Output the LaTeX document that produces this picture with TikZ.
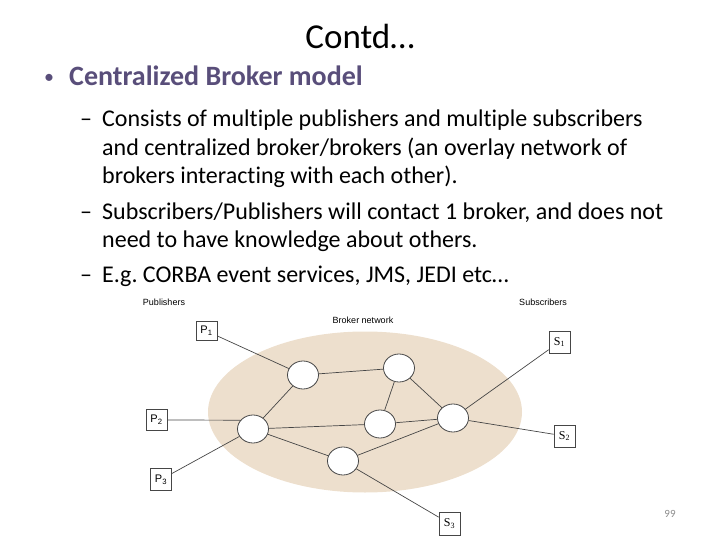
\documentclass[tikz,border=0pt]{standalone}
\usepackage{fontspec}
\setmainfont{Carlito}[Ligatures={NoCommon}]
\newfontfamily\diagfont{Liberation Sans}
\newfontfamily\serfont{Liberation Serif}
\usetikzlibrary{shapes.geometric}
\definecolor{headc}{RGB}{89,78,122}
\definecolor{cloudc}{RGB}{237,223,205}
\definecolor{linec}{RGB}{70,70,70}
\definecolor{pagec}{RGB}{140,140,140}
\frenchspacing
\begin{document}
\begin{tikzpicture}[x=1pt,y=-1pt,
  txt/.style={anchor=base west,inner sep=0pt,font=\fontsize{24}{29}\selectfont},
  dashmark/.style={anchor=base,inner sep=0pt,font=\fontsize{24}{29}\selectfont},
  brk/.style={ellipse,draw=linec,fill=white,line width=0.8pt,minimum width=31,minimum height=28,inner sep=0pt},
  pbox/.style={draw=linec,fill=white,line width=0.6pt,minimum width=21,minimum height=21,inner sep=0pt,font=\diagfont\fontsize{11}{12}\selectfont},
  sbox/.style={pbox,font=\serfont\fontsize{12}{13}\selectfont},
  lab/.style={inner sep=0pt,font=\diagfont\fontsize{9}{11}\selectfont},
  edge/.style={draw=linec,line width=0.7pt}]
\useasboundingbox (0,0) rectangle (720,540);
% title
\node[anchor=base,inner sep=0pt,font=\fontsize{35}{42}\selectfont] (title) at (360,49) {Contd…};
\node[anchor=base,inner sep=0pt,font=\fontsize{20}{24}\selectfont,text=headc] (bul) at (49,84) {•};
\node[anchor=base west,inner sep=0pt,font=\fontsize{28}{34}\selectfont\bfseries,text=headc] (head) at (69,86) {Centralized Broker model};
% sub bullets
\node[dashmark] (d1) at (86,127) {–};
\node[txt] (l1) at (102,127) {Consists of multiple publishers and multiple subscribers};
\node[txt] (l2) at (102,155.5) {and centralized broker/brokers (an overlay network of};
\node[txt] (l3) at (102,184) {brokers interacting with each other).};
\node[dashmark] (d2) at (86,219) {–};
\node[txt] (l4) at (102,219) {Subscribers/Publishers will contact 1 broker, and does not};
\node[txt] (l5) at (102,247.5) {need to have knowledge about others.};
\node[dashmark] (d3) at (86,282) {–};
\node[txt] (l6) at (102,282) {E.g. CORBA event services, JMS, JEDI etc…};
% diagram
\node[ellipse,fill=cloudc,minimum width=314,minimum height=161,inner sep=0pt] (cloud) at (365,412) {};
\node[lab] (publab) at (164,302) {Publishers};
\node[lab] (sublab) at (543,302) {Subscribers};
\node[lab] (brklab) at (363,320) {Broker network};
\node[brk] (B1) at (303,375) {};
\node[brk] (B2) at (399,368) {};
\node[brk] (B3) at (253,429) {};
\node[brk] (B4) at (380,424) {};
\node[brk] (B5) at (453,418) {};
\node[brk] (B6) at (343,461) {};
\node[pbox,minimum height=19] (P1) at (206.5,331) {P\textsubscript{1}};
\node[pbox] (P2) at (156.5,420) {P\textsubscript{2}};
\node[pbox,minimum height=22] (P3) at (161,479.5) {P\textsubscript{3}};
\node[sbox,minimum height=22] (S1) at (559.5,342) {S\textsubscript{1}};
\node[sbox,minimum height=22] (S2) at (564.5,436) {S\textsubscript{2}};
\node[sbox,minimum height=23] (S3) at (449.5,523.5) {S\textsubscript{3}};
\draw[edge] (P1) -- (B1);
\draw[edge] (B1) -- (B2);
\draw[edge] (B1) -- (B3);
\draw[edge] (B2) -- (B4);
\draw[edge] (B2) -- (B5);
\draw[edge] (P2.east) -- (B3.145);
\draw[edge] (P3) -- (B3);
\draw[edge] (B3) -- (B4);
\draw[edge] (B4) -- (B5);
\draw[edge] (B3) -- (B6);
\draw[edge] (B6) -- (B5);
\draw[edge] (B6) -- (S3);
\draw[edge] (B5) -- (S1);
\draw[edge] (B5) -- (S2);
\node[inner sep=0pt,font=\fontsize{11}{13}\selectfont,text=pagec] (pg) at (670,514) {99};
\end{tikzpicture}
\end{document}
